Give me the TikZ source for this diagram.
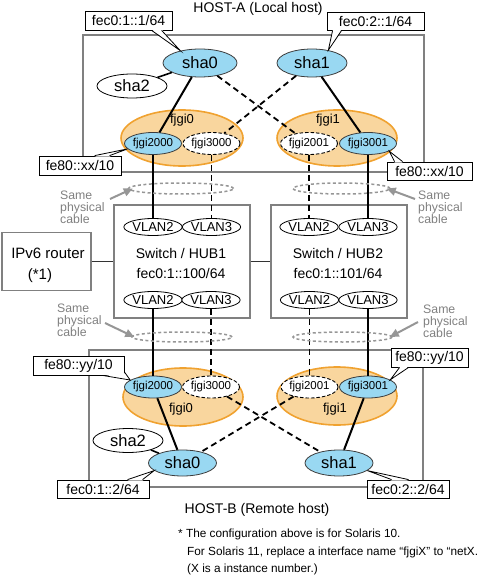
\documentclass[tikz,border=0pt]{standalone}
\usepackage{fontspec}
\setmainfont{Liberation Sans}
\usetikzlibrary{shapes.geometric,arrows.meta}
\definecolor{shablue}{RGB}{153,216,242}
\definecolor{orfill}{RGB}{249,214,158}
\definecolor{ordraw}{RGB}{240,162,48}
\definecolor{framegray}{RGB}{128,128,128}
\definecolor{txtgray}{RGB}{128,128,128}
\definecolor{bundlegray}{RGB}{150,150,150}
\definecolor{edgegray}{RGB}{60,60,60}
\tikzset{
  lbl/.style={inner sep=0pt, font=\fontsize{14}{16}\selectfont},
  rlbl/.style={inner sep=0pt, font=\fontsize{15}{17}\selectfont},
  olbl/.style={inner sep=0pt, font=\fontsize{13}{15}\selectfont},
  frame/.style={draw=framegray, line width=1.3pt, inner sep=0pt},
  orangeell/.style={ellipse, draw=ordraw, fill=orfill, line width=1.6pt, inner sep=0pt},
  ifblue/.style={ellipse, draw=edgegray, fill=shablue, line width=0.8pt, inner sep=0pt, minimum width=54pt, minimum height=22pt, font=\fontsize{11.5}{13}\selectfont},
  ifwhite/.style={ellipse, draw=black, fill=white, line width=0.9pt, dash pattern=on 3.5pt off 2pt, inner sep=0pt, minimum width=54pt, minimum height=22pt, font=\fontsize{11.5}{13}\selectfont},
  sha/.style={ellipse, draw=edgegray, fill=shablue, line width=0.8pt, inner sep=0pt, minimum height=28pt, font=\fontsize{16.5}{18}\selectfont},
  shaw/.style={ellipse, draw=black, fill=white, line width=0.8pt, inner sep=0pt, font=\fontsize{16.5}{18}\selectfont},
  vlan/.style={ellipse, draw=black, fill=white, line width=0.8pt, inner sep=0pt, minimum width=54pt, minimum height=17pt, font=\fontsize{13}{14}\selectfont},
  bundle/.style={ellipse, draw=bundlegray, line width=1.5pt, dash pattern=on 3pt off 2.5pt, inner sep=0pt},
  same/.style={inner sep=0pt, align=left, text=txtgray, font=\fontsize{12.3}{12}\selectfont},
  garrow/.style={draw=bundlegray, line width=2pt, -{Triangle[length=9pt,width=8pt]}},
  callout/.style={draw=black, fill=white, line width=0.8pt, inner sep=0pt, font=\fontsize{14}{16}\selectfont},
  pointer/.style={draw=black, line width=0.8pt},
  solidln/.style={draw=black, line width=2pt},
  dashln/.style={draw=black, line width=1.8pt, dash pattern=on 6pt off 4pt},
  shortln/.style={draw=black, line width=1.6pt},
  hubln/.style={draw=black!80, line width=0.9pt},
  note/.style={inner sep=0pt, font=\fontsize{11.8}{14}\selectfont}
}
\begin{document}
\begin{tikzpicture}[x=1pt,y=-1pt]
\useasboundingbox (0,0) rectangle (483,577);

% frames
\node[frame, minimum width=341pt, minimum height=137pt] (hostA) at (253.5,103.5) {};
\node[frame, minimum width=334pt, minimum height=137pt] (hostB) at (256,418.5) {};
\node[frame, minimum width=136pt, minimum height=113pt] (hub1) at (182,261.5) {};
\node[frame, minimum width=136pt, minimum height=113pt] (hub2) at (339,261.5) {};
\node[frame, minimum width=89pt, minimum height=58pt] (router) at (46.5,261.5) {};

\node[lbl, anchor=base] (hostAlbl) at (258,13) {HOST-A (Local host)};
\node[lbl, anchor=base] (hostBlbl) at (257,513) {HOST-B (Remote host)};
\node[lbl, anchor=base] (hub1t) at (181,258) {Switch / HUB1};
\node[lbl, anchor=base] (hub1a) at (181,278) {fec0:1::100/64};
\node[lbl, anchor=base] (hub2t) at (338,258) {Switch / HUB2};
\node[lbl, anchor=base] (hub2a) at (338,278) {fec0:1::101/64};
\node[rlbl, anchor=base] (routert) at (48,258) {IPv6 router};
\node[rlbl, anchor=base] (routern) at (40,279) {(*1)};

% top host
\node[orangeell, minimum width=122pt, minimum height=56pt] (fjgi0) at (182,138) {};
\node[olbl, anchor=base] (fjgi0lbl) at (182,124) {fjgi0};
\node[orangeell, minimum width=120pt, minimum height=56pt] (fjgi1) at (337,138) {};
\node[olbl, anchor=base] (fjgi1lbl) at (328,124) {fjgi1};
\node[ifblue] (fA0) at (153,143.5) {fjgi2000};
\node[ifwhite] (fA1) at (211.5,143.5) {fjgi3000};
\node[ifwhite] (fB0) at (309,143.5) {fjgi2001};
\node[ifblue] (fB1) at (368,143.5) {fjgi3001};
\node[sha, minimum width=74pt] (sha0) at (200,63) {sha0};
\node[sha, minimum width=70pt] (sha1) at (312,63) {sha1};
\node[shaw, minimum width=70pt, minimum height=24pt] (sha2) at (132,86) {sha2};

% bottom host
\node[orangeell, minimum width=120pt, minimum height=58pt] (fjgi0b) at (183,397) {};
\node[olbl, anchor=base] (fjgi0blbl) at (181,412) {fjgi0};
\node[orangeell, minimum width=120pt, minimum height=58pt] (fjgi1b) at (337,396) {};
\node[olbl, anchor=base] (fjgi1blbl) at (335,412) {fjgi1};
\node[ifblue] (fC0) at (153,387) {fjgi2000};
\node[ifwhite] (fC1) at (211,387) {fjgi3000};
\node[ifwhite] (fD0) at (309.5,387) {fjgi2001};
\node[ifblue] (fD1) at (368,387) {fjgi3001};
\node[sha, minimum width=68pt, minimum height=26pt] (sha0b) at (182.5,463) {sha0};
\node[sha, minimum width=68pt, minimum height=26pt] (sha1b) at (339,463) {sha1};
\node[shaw, minimum width=70pt, minimum height=24pt] (sha2b) at (128,440.5) {sha2};

% VLANs
\node[vlan] (vA2) at (153,227) {VLAN2};
\node[vlan] (vA3) at (211.5,227) {VLAN3};
\node[vlan] (vB2) at (309,227) {VLAN2};
\node[vlan] (vB3) at (368,227) {VLAN3};
\node[vlan] (vC2) at (153,300) {VLAN2};
\node[vlan] (vC3) at (211,300) {VLAN3};
\node[vlan] (vD2) at (309.5,300) {VLAN2};
\node[vlan] (vD3) at (368,300) {VLAN3};

% connectors
\draw[hubln] (router) -- (hub1);
\draw[hubln] (hub1) -- (hub2);
\draw[shortln] (sha0) -- (sha2);
\draw[solidln] (sha0) -- (fA0);
\draw[dashln] (sha0) -- (fB0);
\draw[dashln] (sha1) -- (fA1);
\draw[solidln] (sha1) -- (fB1);
\draw[solidln] (fA0) -- (vA2);
\draw[dashln] (fA1) -- (vA3);
\draw[dashln] (fB0) -- (vB2);
\draw[solidln] (fB1) -- (vB3);
\draw[solidln] (vC2) -- (fC0);
\draw[dashln] (vC3) -- (fC1);
\draw[dashln] (vD2) -- (fD0);
\draw[solidln] (vD3) -- (fD1);
\draw[solidln] (fC0) -- (sha0b);
\draw[dashln] (fC1) -- (sha1b);
\draw[dashln] (fD0) -- (sha0b);
\draw[solidln] (fD1) -- (sha1b);
\draw[shortln] (sha2b) -- (sha0b);

% cable bundles
\node[bundle, minimum width=105pt, minimum height=11pt] (bTL) at (181,188.5) {};
\node[bundle, minimum width=97pt, minimum height=11pt] (bTR) at (341.5,188.5) {};
\node[bundle, minimum width=100pt, minimum height=10pt] (bBL) at (182,337) {};
\node[bundle, minimum width=99pt, minimum height=10pt] (bBR) at (342.5,337) {};
\node[same, anchor=west] (sTL) at (60,207) {Same\\physical\\cable};
\node[same, anchor=west] (sTR) at (418,207) {Same\\physical\\cable};
\node[same, anchor=west] (sBL) at (57,320) {Same\\physical\\cable};
\node[same, anchor=west] (sBR) at (423,321) {Same\\physical\\cable};
\coordinate (aTL) at (110,199);
\coordinate (aTR) at (415,199);
\coordinate (aBL) at (105,323);
\coordinate (aBR) at (418,322);
\draw[garrow] (aTL) -- ([xshift=5pt]bTL.west);
\draw[garrow] (aTR) -- ([xshift=-4pt]bTR.east);
\draw[garrow] (aBL) -- ([xshift=3pt]bBL.west);
\draw[garrow] (aBR) -- ([xshift=-3pt]bBR.east);

% callouts
\node[callout, minimum width=87pt, minimum height=19pt] (cA1) at (128.5,20.5) {fec0:1::1/64};
\fill[white] ([xshift=67pt,yshift=1pt]cA1.south west) -- (sha0.148) -- ([xshift=77pt,yshift=1pt]cA1.south west) -- cycle;
\draw[pointer] ([xshift=67pt]cA1.south west) -- (sha0.148) -- ([xshift=77pt]cA1.south west);

\node[callout, minimum width=97pt, minimum height=18pt] (cA2) at (375.5,21) {fec0:2::1/64};
\fill[white] ([xshift=6pt,yshift=1pt]cA2.south west) -- (sha1.38) -- ([xshift=15pt,yshift=1pt]cA2.south west) -- cycle;
\draw[pointer] ([xshift=6pt]cA2.south west) -- (sha1.38) -- ([xshift=15pt]cA2.south west);

\node[callout, minimum width=82pt, minimum height=19pt] (cA3) at (80,165.5) {fe80::xx/10};
\fill[white] ([xshift=56pt,yshift=-1pt]cA3.north west) -- (fA0.192) -- ([xshift=71pt,yshift=-1pt]cA3.north west) -- cycle;
\draw[pointer] ([xshift=56pt]cA3.north west) -- (fA0.192) -- ([xshift=71pt]cA3.north west);

\node[callout, minimum width=85pt, minimum height=18pt] (cA4) at (429.5,171) {fe80::xx/10};
\fill[white] ([xshift=8pt,yshift=-1pt]cA4.north west) -- (fB1.340) -- ([xshift=16pt,yshift=-1pt]cA4.north west) -- cycle;
\draw[pointer] ([xshift=8pt]cA4.north west) -- (fB1.340) -- ([xshift=16pt]cA4.north west);

\node[callout, minimum width=91pt, minimum height=19pt] (cB1) at (78.5,365.5) {fe80::yy/10};
\fill[white] ([xshift=-22pt,yshift=1pt]cB1.south east) -- (fC0.163) -- ([xshift=-1pt,yshift=3.5pt]cB1.south east) -- ([xshift=-1pt,yshift=1pt]cB1.south east) -- cycle;
\draw[pointer] ([xshift=-22pt]cB1.south east) -- (fC0.163) -- ([yshift=3.5pt]cB1.south east);

\node[callout, minimum width=77pt, minimum height=19pt] (cB2) at (429.5,357.5) {fe80::yy/10};
\fill[white] ([xshift=9pt,yshift=1pt]cB2.south west) -- (fD1.18) -- ([xshift=18pt,yshift=1pt]cB2.south west) -- cycle;
\draw[pointer] ([xshift=9pt]cB2.south west) -- (fD1.18) -- ([xshift=18pt]cB2.south west);

\node[callout, minimum width=92pt, minimum height=18pt] (cC1) at (103,489) {fec0:1::2/64};
\fill[white] ([xshift=71pt,yshift=-1pt]cC1.north west) -- (sha0b.195) -- ([xshift=86pt,yshift=-1pt]cC1.north west) -- cycle;
\draw[pointer] ([xshift=71pt]cC1.north west) -- (sha0b.195) -- ([xshift=86pt]cC1.north west);

\node[callout, minimum width=82pt, minimum height=18pt] (cC2) at (408,489) {fec0:2::2/64};
\fill[white] ([xshift=25pt,yshift=-1pt]cC2.north west) -- (sha1b.345) -- ([xshift=42pt,yshift=-1pt]cC2.north west) -- cycle;
\draw[pointer] ([xshift=25pt]cC2.north west) -- (sha1b.345) -- ([xshift=42pt]cC2.north west);

% footnote
\node[note, anchor=base west] (n1) at (178,537) {* The configuration above is for Solaris 10.};
\node[note, anchor=base west] (n2) at (187,555) {For Solaris 11, replace a interface name “fjgiX” to “netX.};
\node[note, anchor=base west] (n3) at (187,572) {(X is a instance number.)};
\end{tikzpicture}
\end{document}
